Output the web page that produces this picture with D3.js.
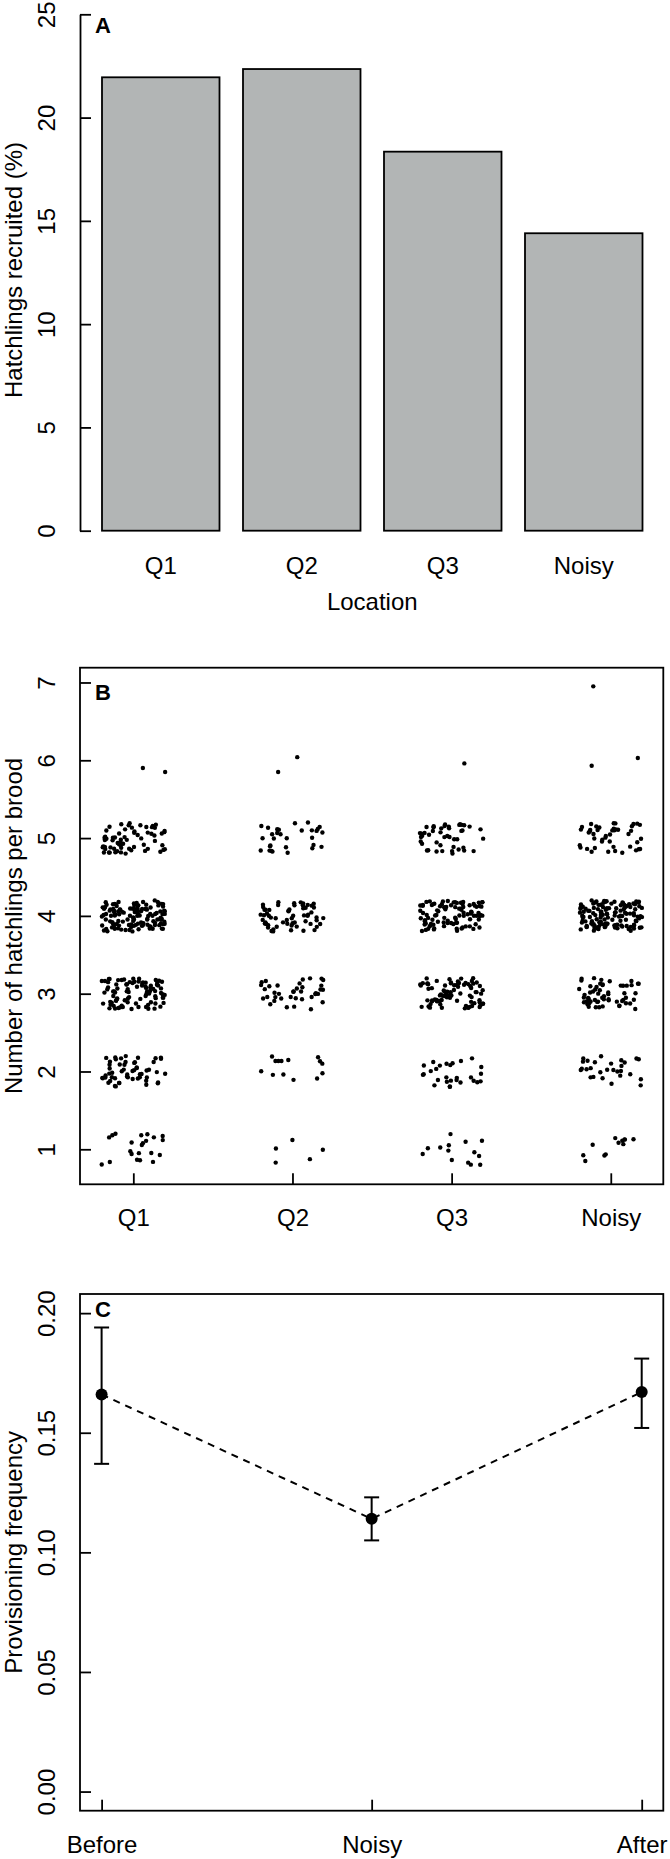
<!DOCTYPE html>
<html>
<head>
<meta charset="utf-8">
<script src="https://cdn.jsdelivr.net/npm/d3@7"></script>
<style>
  body { margin: 0; background: #fff; }
  svg text { font-family: "Liberation Sans", Arial, Helvetica, sans-serif; fill: #000; }
</style>
</head>
<body>
<div id="chart"></div>
<script>
// ---- panel A: recruitment per location
const locations = ["Q1", "Q2", "Q3", "Noisy"];
const recruitedPct = [21.95, 22.35, 18.35, 14.4];
const recruitTicks = [0, 5, 10, 15, 20, 25];

// ---- panel B: broods per size (counts)
const broodSizes = [1, 2, 3, 4, 5];
const broodsQ1 = [22, 55, 90, 130, 65];
const broodsQ2 = [5, 14, 38, 60, 30];
const broodsQ3 = [14, 28, 80, 95, 45];
const broodsNoisy = [12, 28, 60, 130, 45];
// the few broods of 6 and 7, read one by one (already jittered)
const bigBroodLoc = [1.06, 1.20, 1.91, 2.03, 3.08, 3.88, 4.17, 3.89];
const bigBroodSize = [5.90, 5.85, 5.85, 6.04, 5.96, 5.93, 6.03, 6.95];
const broodTicks = [1, 2, 3, 4, 5, 6, 7];

// ---- panel C: provisioning frequency (mean and error bar ends)
const periods = ["Before", "Noisy", "After"];
const provMean = [0.166, 0.114, 0.167];
const provLow = [0.137, 0.105, 0.152];
const provHigh = [0.194, 0.123, 0.181];
const provTicks = [0, 0.05, 0.10, 0.15, 0.20];

const width = 670, height = 1859;
const left = 80, right = 663.3;
const tick = 11;
const lw = 1.8;

const svg = d3.select("#chart").append("svg")
    .attr("width", width)
    .attr("height", height);

// rotates the y tick labels like R's default (parallel to the axis)
function styleYAxis(g) {
    g.selectAll(".tick line").attr("stroke-width", lw);
    g.selectAll(".tick text")
        .attr("x", null).attr("dy", null)
        .attr("text-anchor", "middle")
        .attr("transform", "translate(-25,0) rotate(-90)")
        .style("font-size", "24px");
}

function yTitle(text, cy) {
    svg.append("text")
        .attr("transform", `translate(22,${cy}) rotate(-90)`)
        .attr("text-anchor", "middle")
        .style("font-size", "24px")
        .text(text);
}

function panelLetter(text, y) {
    svg.append("text")
        .attr("x", 95).attr("y", y)
        .style("font-size", "22px")
        .style("font-weight", "bold")
        .text(text);
}

// ================= A =================
const yA = d3.scaleLinear().domain([0, 25]).range([530.7, 14.3]);
const xA = d3.scaleBand().domain(locations).range([102, 642.5])
    .paddingInner(1 / 6).paddingOuter(0);

svg.append("g")
    .selectAll("rect")
    .data(locations)
    .join("rect")
    .attr("x", d => xA(d))
    .attr("width", xA.bandwidth())
    .attr("y", (d, i) => yA(recruitedPct[i]))
    .attr("height", (d, i) => yA(0) - yA(recruitedPct[i]))
    .attr("fill", "#b2b5b5")
    .attr("stroke", "#000")
    .attr("stroke-width", lw);

svg.append("g")
    .attr("transform", `translate(${left},0)`)
    .call(d3.axisLeft(yA).tickValues(recruitTicks).tickFormat(d3.format("d"))
        .tickSizeInner(-tick).tickSizeOuter(0))
    .call(g => g.select(".domain").attr("stroke-width", lw))
    .call(styleYAxis);

svg.append("g")
    .selectAll("text")
    .data(locations)
    .join("text")
    .attr("x", d => xA(d) + xA.bandwidth() / 2)
    .attr("y", 574)
    .attr("text-anchor", "middle")
    .style("font-size", "24px")
    .text(d => d);

svg.append("text")
    .attr("x", (xA.range()[0] + xA.range()[1]) / 2)
    .attr("y", 610)
    .attr("text-anchor", "middle")
    .style("font-size", "24px")
    .text("Location");

yTitle("Hatchlings recruited (%)", 270);
panelLetter("A", 33);

// ================= B =================
const topB = 667.7, botB = 1184.3;
const xB = d3.scaleLinear().domain([0.665, 4.33]).range([left, right]);
const yB = d3.scaleLinear().domain([0.55, 7.19]).range([botB, topB]);

// one record per brood; jittered like R's jitter(amount = 0.2), fixed seed
const countsByLocation = [broodsQ1, broodsQ2, broodsQ3, broodsNoisy];
const jitter = d3.randomLcg(0.2718);
const broods = [];
countsByLocation.forEach((counts, li) => {
    counts.forEach((n, si) => {
        for (let k = 0; k < n; k++) {
            broods.push({
                loc: li + 1 + (jitter() * 0.4 - 0.2),
                size: broodSizes[si] + (jitter() * 0.4 - 0.2)
            });
        }
    });
});
bigBroodLoc.forEach((loc, i) => broods.push({ loc: loc, size: bigBroodSize[i] }));

svg.append("rect")
    .attr("x", left).attr("y", topB)
    .attr("width", right - left).attr("height", botB - topB)
    .attr("fill", "none").attr("stroke", "#000").attr("stroke-width", lw);

svg.append("g")
    .selectAll("circle")
    .data(broods)
    .join("circle")
    .attr("cx", d => xB(d.loc))
    .attr("cy", d => yB(d.size))
    .attr("r", 2.2)
    .attr("fill", "#000");

svg.append("g")
    .attr("transform", `translate(${left},0)`)
    .call(d3.axisLeft(yB).tickValues(broodTicks).tickFormat(d3.format("d"))
        .tickSizeInner(-tick).tickSizeOuter(0))
    .call(g => g.select(".domain").remove())
    .call(styleYAxis);

svg.append("g")
    .attr("transform", `translate(0,${botB})`)
    .call(d3.axisBottom(xB).tickValues([1, 2, 3, 4]).tickFormat((d, i) => locations[i])
        .tickSizeInner(-tick).tickSizeOuter(0))
    .call(g => g.select(".domain").remove())
    .call(g => g.selectAll(".tick line").attr("stroke-width", lw))
    .call(g => g.selectAll(".tick text").attr("y", 42).attr("dy", null).style("font-size", "24px"));

yTitle("Number of hatchlings per brood", (topB + botB) / 2);
panelLetter("B", 700);

// ================= C =================
const topC = 1294, botC = 1810.7;
const xC = d3.scaleLinear().domain([0.92, 3.08]).range([left, right]);
const yC = d3.scaleLinear().domain([-0.008, 0.208]).range([botC, topC]);

svg.append("rect")
    .attr("x", left).attr("y", topC)
    .attr("width", right - left).attr("height", botC - topC)
    .attr("fill", "none").attr("stroke", "#000").attr("stroke-width", lw);

svg.append("g")
    .attr("transform", `translate(${left},0)`)
    .call(d3.axisLeft(yC).tickValues(provTicks).tickFormat(d3.format(".2f"))
        .tickSizeInner(-tick).tickSizeOuter(0))
    .call(g => g.select(".domain").remove())
    .call(styleYAxis);

svg.append("g")
    .attr("transform", `translate(0,${botC})`)
    .call(d3.axisBottom(xC).tickValues([1, 2, 3]).tickFormat((d, i) => periods[i])
        .tickSizeInner(-tick).tickSizeOuter(0))
    .call(g => g.select(".domain").remove())
    .call(g => g.selectAll(".tick line").attr("stroke-width", lw))
    .call(g => g.selectAll(".tick text").attr("y", 42).attr("dy", null).style("font-size", "24px"));

const line = d3.line()
    .x((d, i) => xC(i + 1))
    .y(d => yC(d));

svg.append("path")
    .datum(provMean)
    .attr("d", line)
    .attr("fill", "none")
    .attr("stroke", "#000")
    .attr("stroke-width", 2)
    .attr("stroke-dasharray", "7,6");

const bars = svg.append("g")
    .selectAll("g")
    .data(periods)
    .join("g")
    .attr("stroke", "#000")
    .attr("stroke-width", 2);

bars.append("line")
    .attr("x1", (d, i) => xC(i + 1)).attr("x2", (d, i) => xC(i + 1))
    .attr("y1", (d, i) => yC(provLow[i])).attr("y2", (d, i) => yC(provHigh[i]));
bars.append("line")
    .attr("x1", (d, i) => xC(i + 1) - 7.5).attr("x2", (d, i) => xC(i + 1) + 7.5)
    .attr("y1", (d, i) => yC(provLow[i])).attr("y2", (d, i) => yC(provLow[i]));
bars.append("line")
    .attr("x1", (d, i) => xC(i + 1) - 7.5).attr("x2", (d, i) => xC(i + 1) + 7.5)
    .attr("y1", (d, i) => yC(provHigh[i])).attr("y2", (d, i) => yC(provHigh[i]));

svg.append("g")
    .selectAll("circle")
    .data(provMean)
    .join("circle")
    .attr("cx", (d, i) => xC(i + 1))
    .attr("cy", d => yC(d))
    .attr("r", 6)
    .attr("fill", "#000");

yTitle("Provisioning frequency", (topC + botC) / 2);
panelLetter("C", 1317);
</script>
</body>
</html>
